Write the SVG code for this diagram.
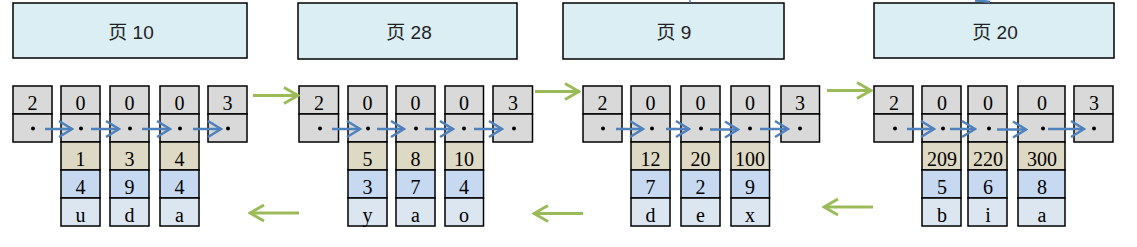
<svg xmlns="http://www.w3.org/2000/svg" width="1137" height="247" viewBox="0 0 1137 247">
<style>
.page{fill:#daeef3;stroke:#000;stroke-width:1.5}
.g{fill:#d9d9d9;stroke:#000;stroke-width:1.5}
.t{fill:#ddd9c4;stroke:#000;stroke-width:1.5}
.b{fill:#c6d9f1;stroke:#000;stroke-width:1.5}
.l{fill:#dce6f1;stroke:#000;stroke-width:1.5}
.ht{font-family:"Liberation Sans","Noto Sans CJK SC",sans-serif;font-size:19px;fill:#222;text-anchor:middle}
.ct{font-family:"Liberation Serif","DejaVu Serif",serif;font-size:20px;fill:#000;text-anchor:middle}
.dot{fill:#000}
.ba{stroke:#4f81bd;stroke-width:2.5;fill:none;marker-end:url(#mb)}
.ga{stroke:#9bbb59;stroke-width:3;fill:none;marker-end:url(#mg)}
</style>
<defs>
<marker id="mb" markerUnits="userSpaceOnUse" viewBox="-16 -10 18 20" markerWidth="18" markerHeight="20" refX="0" refY="0" orient="auto">
<path d="M-13,-8 L0,0 L-13,8" fill="none" stroke="#4f81bd" stroke-width="2.5"/>
</marker>
<marker id="mg" markerUnits="userSpaceOnUse" viewBox="-16 -10 18 20" markerWidth="18" markerHeight="20" refX="0" refY="0" orient="auto">
<path d="M-14,-8 L0,0 L-14,8" fill="none" stroke="#9bbb59" stroke-width="3"/>
</marker>
</defs>
<rect width="1137" height="247" fill="#fff"/>

<!-- page headers -->
<g id="page10"><rect class="page" x="13" y="3" width="234" height="55"/><text class="ht" x="131" y="39">页  10</text></g>
<g id="page28"><rect class="page" x="298" y="3" width="219" height="56"/><text class="ht" x="409" y="39">页  28</text></g>
<g id="page9"><rect class="page" x="563" y="3" width="221" height="56"/><text class="ht" x="674" y="39">页  9</text></g>
<g id="page20"><rect class="page" x="874" y="3" width="240" height="55"/><text class="ht" x="995" y="39">页  20</text></g>

<!-- group 1 (page 10) -->
<g id="p10-head"><rect class="g" x="13" y="86" width="39" height="28"/><rect class="g" x="13" y="114" width="39" height="28"/><text class="ct" x="32.5" y="109.5">2</text><circle class="dot" cx="33" cy="128.5" r="2"/></g>
<g id="p10-r1"><rect class="g" x="61" y="86" width="39" height="28"/><rect class="g" x="61" y="114" width="39" height="28"/><rect class="t" x="61" y="142" width="39" height="28"/><rect class="b" x="61" y="170" width="39" height="28"/><rect class="l" x="61" y="198" width="39" height="28"/><text class="ct" x="80.5" y="109.5">0</text><circle class="dot" cx="81" cy="128.5" r="2"/><text class="ct" x="80.5" y="165.5">1</text><text class="ct" x="80.5" y="193.5">4</text><text class="ct" x="80.5" y="221.5">u</text></g>
<g id="p10-r2"><rect class="g" x="110" y="86" width="39" height="28"/><rect class="g" x="110" y="114" width="39" height="28"/><rect class="t" x="110" y="142" width="39" height="28"/><rect class="b" x="110" y="170" width="39" height="28"/><rect class="l" x="110" y="198" width="39" height="28"/><text class="ct" x="129.5" y="109.5">0</text><circle class="dot" cx="130" cy="128.5" r="2"/><text class="ct" x="129.5" y="165.5">3</text><text class="ct" x="129.5" y="193.5">9</text><text class="ct" x="129.5" y="221.5">d</text></g>
<g id="p10-r3"><rect class="g" x="160" y="86" width="39" height="28"/><rect class="g" x="160" y="114" width="39" height="28"/><rect class="t" x="160" y="142" width="39" height="28"/><rect class="b" x="160" y="170" width="39" height="28"/><rect class="l" x="160" y="198" width="39" height="28"/><text class="ct" x="179.5" y="109.5">0</text><circle class="dot" cx="180" cy="128.5" r="2"/><text class="ct" x="179.5" y="165.5">4</text><text class="ct" x="179.5" y="193.5">4</text><text class="ct" x="179.5" y="221.5">a</text></g>
<g id="p10-tail"><rect class="g" x="208" y="86" width="39" height="28"/><rect class="g" x="208" y="114" width="39" height="28"/><text class="ct" x="227.5" y="109.5">3</text><circle class="dot" cx="228" cy="128.5" r="2"/></g>

<!-- group 2 (page 28) -->
<g id="p28-head"><rect class="g" x="299" y="86" width="39.5" height="28"/><rect class="g" x="299" y="114" width="39.5" height="28"/><text class="ct" x="319" y="109.5">2</text><circle class="dot" cx="320" cy="128.5" r="2"/></g>
<g id="p28-r1"><rect class="g" x="348" y="86" width="39" height="28"/><rect class="g" x="348" y="114" width="39" height="28"/><rect class="t" x="348" y="142" width="39" height="28"/><rect class="b" x="348" y="170" width="39" height="28"/><rect class="l" x="348" y="198" width="39" height="28"/><text class="ct" x="367.5" y="109.5">0</text><circle class="dot" cx="368" cy="128.5" r="2"/><text class="ct" x="367.5" y="165.5">5</text><text class="ct" x="367.5" y="193.5">3</text><text class="ct" x="367.5" y="221.5">y</text></g>
<g id="p28-r2"><rect class="g" x="396" y="86" width="39" height="28"/><rect class="g" x="396" y="114" width="39" height="28"/><rect class="t" x="396" y="142" width="39" height="28"/><rect class="b" x="396" y="170" width="39" height="28"/><rect class="l" x="396" y="198" width="39" height="28"/><text class="ct" x="415.5" y="109.5">0</text><circle class="dot" cx="416" cy="128.5" r="2"/><text class="ct" x="415.5" y="165.5">8</text><text class="ct" x="415.5" y="193.5">7</text><text class="ct" x="415.5" y="221.5">a</text></g>
<g id="p28-r3"><rect class="g" x="445" y="86" width="38.5" height="28"/><rect class="g" x="445" y="114" width="38.5" height="28"/><rect class="t" x="445" y="142" width="38.5" height="28"/><rect class="b" x="445" y="170" width="38.5" height="28"/><rect class="l" x="445" y="198" width="38.5" height="28"/><text class="ct" x="464" y="109.5">0</text><circle class="dot" cx="464" cy="128.5" r="2"/><text class="ct" x="464" y="165.5">10</text><text class="ct" x="464" y="193.5">4</text><text class="ct" x="464" y="221.5">o</text></g>
<g id="p28-tail"><rect class="g" x="493" y="86" width="39.5" height="28"/><rect class="g" x="493" y="114" width="39.5" height="28"/><text class="ct" x="513" y="109.5">3</text><circle class="dot" cx="514" cy="128.5" r="2"/></g>

<!-- group 3 (page 9) -->
<g id="p9-head"><rect class="g" x="583" y="86" width="39" height="28"/><rect class="g" x="583" y="114" width="39" height="28"/><text class="ct" x="602.5" y="109.5">2</text><circle class="dot" cx="603" cy="128.5" r="2"/></g>
<g id="p9-r1"><rect class="g" x="631" y="86" width="39" height="28"/><rect class="g" x="631" y="114" width="39" height="28"/><rect class="t" x="631" y="142" width="39" height="28"/><rect class="b" x="631" y="170" width="39" height="28"/><rect class="l" x="631" y="198" width="39" height="28"/><text class="ct" x="650.5" y="109.5">0</text><circle class="dot" cx="652" cy="128.5" r="2"/><text class="ct" x="650.5" y="165.5">12</text><text class="ct" x="650.5" y="193.5">7</text><text class="ct" x="650.5" y="221.5">d</text></g>
<g id="p9-r2"><rect class="g" x="681" y="86" width="39" height="28"/><rect class="g" x="681" y="114" width="39" height="28"/><rect class="t" x="681" y="142" width="39" height="28"/><rect class="b" x="681" y="170" width="39" height="28"/><rect class="l" x="681" y="198" width="39" height="28"/><text class="ct" x="700.5" y="109.5">0</text><circle class="dot" cx="701" cy="128.5" r="2"/><text class="ct" x="700.5" y="165.5">20</text><text class="ct" x="700.5" y="193.5">2</text><text class="ct" x="700.5" y="221.5">e</text></g>
<g id="p9-r3"><rect class="g" x="731" y="86" width="38.5" height="28"/><rect class="g" x="731" y="114" width="38.5" height="28"/><rect class="t" x="731" y="142" width="38.5" height="28"/><rect class="b" x="731" y="170" width="38.5" height="28"/><rect class="l" x="731" y="198" width="38.5" height="28"/><text class="ct" x="750" y="109.5">0</text><circle class="dot" cx="750" cy="128.5" r="2"/><text class="ct" x="750" y="165.5">100</text><text class="ct" x="750" y="193.5">9</text><text class="ct" x="750" y="221.5">x</text></g>
<g id="p9-tail"><rect class="g" x="781" y="86" width="38.5" height="28"/><rect class="g" x="781" y="114" width="38.5" height="28"/><text class="ct" x="800" y="109.5">3</text><circle class="dot" cx="800" cy="128.5" r="2"/></g>

<!-- group 4 (page 20) -->
<g id="p20-head"><rect class="g" x="874" y="86" width="39" height="28"/><rect class="g" x="874" y="114" width="39" height="28"/><text class="ct" x="894" y="109.5">2</text><circle class="dot" cx="895" cy="128.5" r="2"/></g>
<g id="p20-r1"><rect class="g" x="922" y="86" width="39" height="28"/><rect class="g" x="922" y="114" width="39" height="28"/><rect class="t" x="922" y="142" width="39" height="28"/><rect class="b" x="922" y="170" width="39" height="28"/><rect class="l" x="922" y="198" width="39" height="28"/><text class="ct" x="942" y="109.5">0</text><circle class="dot" cx="943" cy="128.5" r="2"/><text class="ct" x="942" y="165.5">209</text><text class="ct" x="942" y="193.5">5</text><text class="ct" x="942" y="221.5">b</text></g>
<g id="p20-r2"><rect class="g" x="968" y="86" width="39" height="28"/><rect class="g" x="968" y="114" width="39" height="28"/><rect class="t" x="968" y="142" width="39" height="28"/><rect class="b" x="968" y="170" width="39" height="28"/><rect class="l" x="968" y="198" width="39" height="28"/><text class="ct" x="988" y="109.5">0</text><circle class="dot" cx="989" cy="128.5" r="2"/><text class="ct" x="988" y="165.5">220</text><text class="ct" x="988" y="193.5">6</text><text class="ct" x="988" y="221.5">i</text></g>
<g id="p20-r3"><rect class="g" x="1018" y="86" width="47" height="28"/><rect class="g" x="1018" y="114" width="47" height="28"/><rect class="t" x="1018" y="142" width="47" height="28"/><rect class="b" x="1018" y="170" width="47" height="28"/><rect class="l" x="1018" y="198" width="47" height="28"/><text class="ct" x="1042" y="109.5">0</text><circle class="dot" cx="1043" cy="128.5" r="2"/><text class="ct" x="1042" y="165.5">300</text><text class="ct" x="1042" y="193.5">8</text><text class="ct" x="1042" y="221.5">a</text></g>
<g id="p20-tail"><rect class="g" x="1074" y="86" width="39" height="28"/><rect class="g" x="1074" y="114" width="39" height="28"/><text class="ct" x="1094" y="109.5">3</text><circle class="dot" cx="1094" cy="128.5" r="2"/></g>

<!-- connectors -->
<g id="connectors">
<path class="ba" d="M45,129 H72"/>
<path class="ba" d="M91,129 H119"/>
<path class="ba" d="M142,129 H170"/>
<path class="ba" d="M193,129 H221"/>
<path class="ba" d="M332,129 H360"/>
<path class="ba" d="M377,129 H404"/>
<path class="ba" d="M425,129 H453"/>
<path class="ba" d="M474,129 H502"/>
<path class="ba" d="M616,129 H643"/>
<path class="ba" d="M666,129 H689"/>
<path class="ba" d="M710,129.5 H738"/>
<path class="ba" d="M760,129 H788"/>
<path class="ba" d="M907,129 H934"/>
<path class="ba" d="M950,129 H975"/>
<path class="ba" d="M997,129.5 H1026"/>
<path class="ba" d="M1048,129 H1084"/>
<path class="ga" d="M253,95.5 H298"/>
<path class="ga" d="M535,91.5 H579"/>
<path class="ga" d="M827,90.5 H871"/>
<path class="ga" d="M299,213 H250"/>
<path class="ga" d="M583,213.5 H534"/>
<path class="ga" d="M873,207 H824"/>
<path d="M975,0.5 Q983,1 990,2" stroke="#4f81bd" stroke-width="2.5" fill="none"/>
<path d="M690,0 V2.5" stroke="#4f81bd" stroke-width="1.5" fill="none"/>
</g>
</svg>
